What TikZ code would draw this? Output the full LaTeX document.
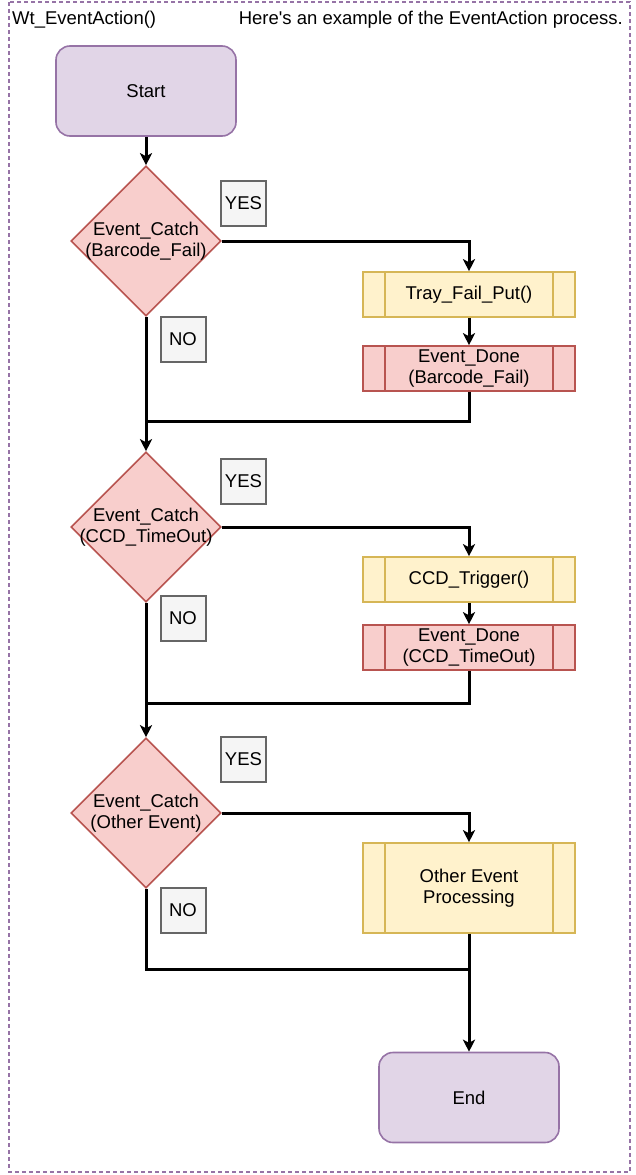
\documentclass[tikz,border=0pt]{standalone}
\usepackage{fontspec}
\setmainfont{Liberation Sans}[Ligatures=TeXOff]
\usetikzlibrary{shapes.geometric,arrows.meta}
\definecolor{pfill}{HTML}{E1D5E7}
\definecolor{pdraw}{HTML}{9673A6}
\definecolor{rfill}{HTML}{F8CECC}
\definecolor{rdraw}{HTML}{B85450}
\definecolor{yfill}{HTML}{FFF2CC}
\definecolor{ydraw}{HTML}{D6B656}
\definecolor{gfill}{HTML}{F5F5F5}
\definecolor{gdraw}{HTML}{666666}
\begin{document}
\begin{tikzpicture}[x=1pt,y=-1pt,
  every node/.style={font=\fontsize{18.5}{21.5}\selectfont, text=black},
  term/.style={draw=pdraw, fill=pfill, line width=1.6pt, rounded corners=14pt, minimum width=180pt, minimum height=90pt, inner sep=0pt},
  diam/.style={diamond, draw=rdraw, fill=rfill, line width=1.6pt, minimum width=150pt, minimum height=150pt, inner sep=0pt, aspect=1},
  lbl/.style={draw=gdraw, fill=gfill, line width=2pt, minimum width=45pt, minimum height=45pt, inner sep=0pt},
  proc/.style={draw=#1, line width=1.6pt, minimum width=212pt, inner sep=0pt, align=center,
    path picture={\draw[#1, line width=1.6pt]
      ([xshift=22pt]path picture bounding box.north west) -- ([xshift=22pt]path picture bounding box.south west)
      ([xshift=-22pt]path picture bounding box.north east) -- ([xshift=-22pt]path picture bounding box.south east);}},
  line/.style={line width=3pt, draw=black},
  arr/.style={line, -{Stealth[length=12pt,width=12pt,inset=3pt]}},
]
\useasboundingbox (0,0) rectangle (635,1175);
\draw[pdraw, line width=1.3pt, dash pattern=on 4pt off 3pt] (9,2) rectangle (630,1172);
\node[anchor=west, inner sep=0pt] (title) at (12,20) {Wt\_EventAction()};
\node[anchor=east, inner sep=0pt] (note) at (623,20) {Here's an example of the EventAction process.};

\node[term] (start) at (146,91) {Start};

\node[diam, label={[align=center]center:Event\_Catch\\(Barcode\_Fail)}] (d1) at (146,241) {};
\node[lbl] (y1) at (243.5,203.5) {YES};
\node[lbl] (n1) at (183,339) {NO};
\node[proc=ydraw, fill=yfill, minimum height=45pt] (p1) at (469,294.5) {Tray\_Fail\_Put()};
\node[proc=rdraw, fill=rfill, minimum height=45pt] (e1) at (469,368.5) {Event\_Done\\(Barcode\_Fail)};
\coordinate (j1) at (146,421);

\node[diam, label={[align=center]center:Event\_Catch\\(CCD\_TimeOut)}] (d2) at (146,527) {};
\node[lbl] (y2) at (243.5,481.5) {YES};
\node[lbl] (n2) at (183,618) {NO};
\node[proc=ydraw, fill=yfill, minimum height=45pt] (p2) at (469,579.5) {CCD\_Trigger()};
\node[proc=rdraw, fill=rfill, minimum height=45pt] (e2) at (469,647.5) {Event\_Done\\(CCD\_TimeOut)};
\coordinate (j2) at (146,703);

\node[diam, label={[align=center]center:Event\_Catch\\(Other Event)}] (d3) at (146,813) {};
\node[lbl] (y3) at (243.5,759.5) {YES};
\node[lbl] (n3) at (183,910.5) {NO};
\node[proc=ydraw, fill=yfill, minimum height=90pt] (p3) at (469,888) {Other Event\\Processing};
\coordinate (j3) at (469,969);

\node[term] (end) at (469,1097.5) {End};

\draw[arr] (start) -- (d1);
\draw[arr] (d1.east) -| (p1.north);
\draw[arr] (p1) -- (e1);
\draw[line] (e1.south) |- (j1);
\draw[arr] (d1.south) -- (d2.north);

\draw[arr] (d2.east) -| (p2.north);
\draw[arr] (p2) -- (e2);
\draw[line] (e2.south) |- (j2);
\draw[arr] (d2.south) -- (d3.north);

\draw[arr] (d3.east) -| (p3.north);
\draw[line] (d3.south) |- (j3);
\draw[arr] (p3.south) -- (end.north);
\end{tikzpicture}
\end{document}
